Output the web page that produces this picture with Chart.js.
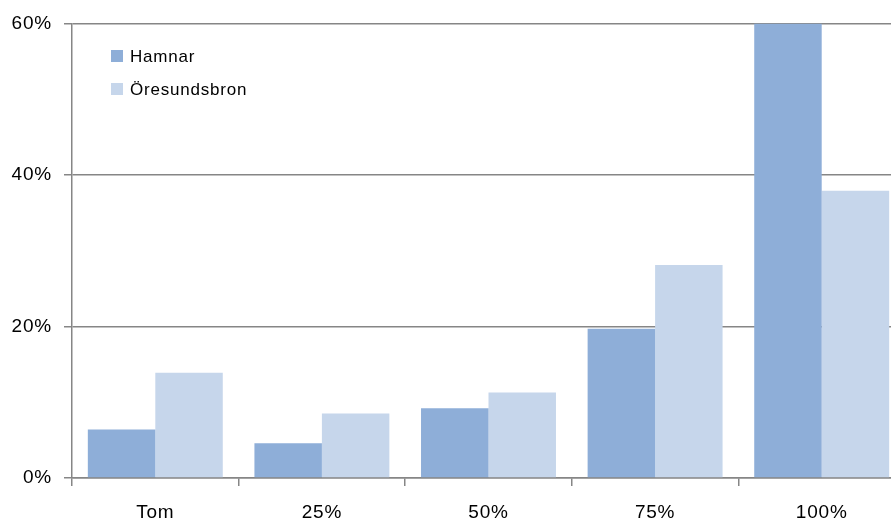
<!DOCTYPE html>
<html>
<head>
<meta charset="utf-8">
<script src="https://cdn.jsdelivr.net/npm/chart.js@4/dist/chart.umd.min.js"></script>
<style>
  html, body { margin: 0; padding: 0; background: #fff; overflow: hidden; }
  #wrap { width: 891px; height: 521px; overflow: hidden; }
  canvas { display: block; }
</style>
</head>
<body>
<div id="wrap"><canvas id="chart" width="905" height="521"></canvas></div>
<script>
// Fill level categories and share per series (%)
const categories = ["Tom", "25%", "50%", "75%", "100%"];
const hamnar = [6.4, 4.6, 9.2, 19.7, 60.0];
const oresundsbron = [13.9, 8.5, 11.3, 28.1, 37.9];
const yTicks = [0, 20, 40, 60];

const FONT = "'Liberation Sans', Arial, sans-serif";
const AXIS_GREY = "#868686";

// slightly tracked-out text everywhere
const spacing = {
  id: "spacing",
  beforeDraw(chart) { chart.ctx.letterSpacing = "0.8px"; }
};

// legend drawn inside the plot area, top-left
const insideLegend = {
  id: "insideLegend",
  afterDraw(chart) {
    const ctx = chart.ctx;
    ctx.save();
    ctx.letterSpacing = "0.8px";
    ctx.font = "17px " + FONT;
    ctx.textBaseline = "middle";
    ctx.textAlign = "left";
    chart.data.datasets.forEach((ds, i) => {
      const y = 56 + i * 33;
      ctx.fillStyle = ds.backgroundColor;
      ctx.fillRect(111, y - 6, 12, 12);
      ctx.fillStyle = "#000";
      ctx.fillText(ds.label, 130, y + 1);
    });
    ctx.restore();
  }
};

new Chart(document.getElementById("chart").getContext("2d"), {
  type: "bar",
  data: {
    labels: categories,
    datasets: [
      { label: "Hamnar", data: hamnar, backgroundColor: "#8eaed8" },
      { label: "Öresundsbron", data: oresundsbron, backgroundColor: "#c6d6eb" }
    ]
  },
  options: {
    responsive: false,
    animation: false,
    devicePixelRatio: 1,
    layout: { padding: { top: 23, right: 0, left: 0, bottom: 0 } },
    datasets: { bar: { categoryPercentage: 0.81, barPercentage: 1.0 } },
    scales: {
      x: {
        offset: true,
        grid: {
          offset: true,
          drawOnChartArea: false,
          color: AXIS_GREY,
          tickLength: 8,
          lineWidth: 1.5
        },
        border: { color: AXIS_GREY, width: 1.5 },
        ticks: { color: "#000", font: { family: FONT, size: 19 }, padding: 15 },
        afterFit: s => { s.height = 43; }
      },
      y: {
        min: 0,
        max: 60,
        afterBuildTicks: s => { s.ticks = yTicks.map(v => ({ value: v })); },
        grid: { color: AXIS_GREY, tickLength: 8, lineWidth: 1.5 },
        border: { color: AXIS_GREY, width: 1.5 },
        ticks: {
          color: "#000",
          font: { family: FONT, size: 19 },
          padding: 12,
          callback: v => v + "%"
        },
        afterFit: s => { s.width = 72; }
      }
    },
    plugins: {
      legend: { display: false },
      tooltip: { enabled: false }
    }
  },
  plugins: [spacing, insideLegend]
});
</script>
</body>
</html>
